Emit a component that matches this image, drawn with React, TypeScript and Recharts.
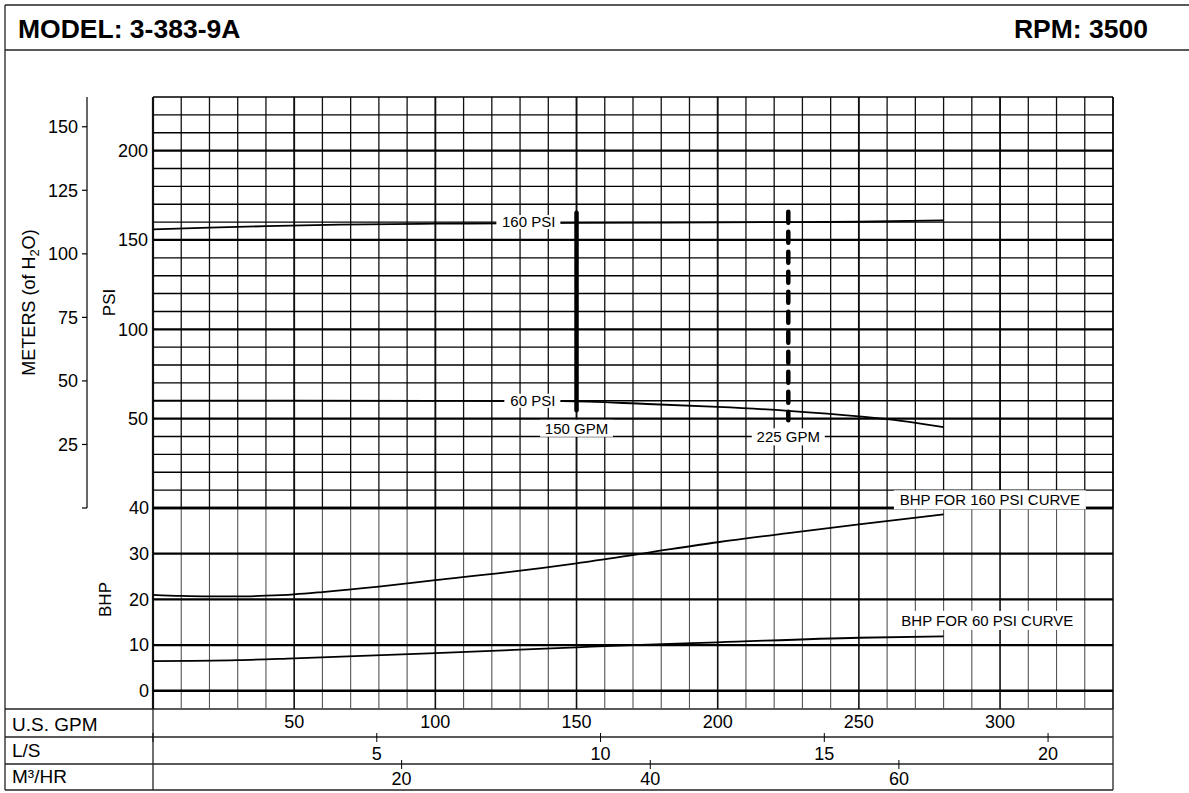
import React from "react";
import { LineChart, Line, XAxis, YAxis, ReferenceLine, ReferenceDot } from "recharts";

const FONT = "'Liberation Sans', Arial, Helvetica, sans-serif";

// grid values (US GPM across, PSI / BHP up)
const gpmGrid = [0, 10, 20, 30, 40, 50, 60, 70, 80, 90, 100, 110, 120, 130, 140, 150, 160, 170, 180, 190, 200, 210, 220, 230, 240, 250, 260, 270, 280, 290, 300, 310, 320, 330, 340];
const psiGrid = [0, 10, 20, 30, 40, 50, 60, 70, 80, 90, 100, 110, 120, 130, 140, 150, 160, 170, 180, 190, 200, 210, 220, 230];
const bhpGrid = [0, 10, 20, 30, 40];

// axis ticks
const psiTicks = [50, 100, 150, 200];
const meterTicks = [0, 25, 50, 75, 100, 125, 150];
const bhpTicks = [0, 10, 20, 30, 40];
const gpmTicks = [50, 100, 150, 200, 250, 300];
const lpsTicks = [0, 5, 10, 15, 20];
const m3hTicks = [20, 40, 60];

// pressure curves
const headGpm160 = [0, 20, 40, 66, 100, 125, 150, 200, 250, 280];
const headPsi160 = [155.9, 156.9, 157.7, 158.6, 159.1, 159.3, 159.55, 159.85, 160.2, 161.0];
const headGpm60 = [0, 50, 100, 145, 175, 200, 225, 250, 265, 280];
const headPsi60 = [60.1, 60.1, 60.0, 59.8, 58.2, 56.6, 54.4, 51.3, 48.8, 45.2];

// brake horsepower curves
const bhpGpm160 = [0, 10, 20, 30, 40, 50, 60, 80, 100, 125, 150, 175, 200, 225, 250, 280];
const bhpVal160 = [21.0, 20.75, 20.65, 20.65, 20.8, 21.1, 21.6, 22.8, 24.2, 25.9, 27.9, 30.2, 32.5, 34.5, 36.4, 38.6];
const bhpGpm60 = [0, 30, 50, 100, 150, 170, 200, 250, 280];
const bhpVal60 = [6.5, 6.7, 7.1, 8.25, 9.5, 10.0, 10.6, 11.6, 11.9];

// rated flow markers (gpm, psi top, psi bottom)
const markerGpm = [150, 225];
const markerTop = [165.2, 165.8];
const markerBottom = [54.7, 49.1];

// annotations
const noteText = ["160 PSI", "60 PSI", "150 GPM", "225 GPM"];
const noteGpm = [142.5, 142.5, 150, 225];
const notePsi = [160, 60, 44.6, 39.8];
const bhpNoteText = ["BHP FOR 160 PSI CURVE", "BHP FOR 60 PSI CURVE"];
const bhpNoteGpm = [296.4, 295.5];
const bhpNoteVal = [41.8, 15.4];

const PSI_TO_M = 0.70307;
const GPM_TO_LPS = 1 / 15.8503;
const GPM_TO_M3H = 0.227125;
const GPM_MAX = 340;

const pts = (xs: number[], ys: number[], k = 1) => xs.map((x, i) => ({ x: x * k, y: ys[i] }));

const noteBox: Record<string, { w: number; h: number; anchor: "end" | "middle" }> = {
  "160 PSI": { w: 54, h: 14, anchor: "end" },
  "60 PSI": { w: 46, h: 14, anchor: "end" },
  "150 GPM": { w: 63, h: 17, anchor: "middle" },
  "225 GPM": { w: 63, h: 17, anchor: "middle" },
  "BHP FOR 160 PSI CURVE": { w: 182, h: 19, anchor: "middle" },
  "BHP FOR 60 PSI CURVE": { w: 173, h: 19, anchor: "middle" },
};

function NoteShape(text: string) {
  return (p: any) => {
    const b = noteBox[text];
    const left = b.anchor === "end" ? p.cx - b.w : p.cx - b.w / 2;
    return (
      <g>
        <rect x={left - 5} y={p.cy - b.h / 2} width={b.w + 10} height={b.h} fill="#fff" />
        <text x={p.cx} y={p.cy} dy="0.36em" textAnchor={b.anchor} fontSize={15} fontFamily={FONT} fill="#000">
          {text}
        </text>
      </g>
    );
  };
}

function rotTitle(dx: number, dy: number, size: number, content: React.ReactNode) {
  return (props: any) => {
    const vb = props.viewBox;
    const cx = vb.x + dx;
    const cy = vb.y + vb.height / 2 + dy;
    return (
      <text x={cx} y={cy} transform={`rotate(-90 ${cx} ${cy})`} textAnchor="middle" dominantBaseline="central" fontSize={size} fontFamily={FONT} fill="#000">
        {content}
      </text>
    );
  };
}

const GpmTick = (p: any) => (
  <text x={p.x} y={p.y + 19} textAnchor="middle" fontSize={18} fontFamily={FONT} fill="#000">
    {p.payload.value}
  </text>
);

function crossTick(drop: number) {
  return (p: any) => (
    <g>
      <line x1={p.x} x2={p.x} y1={p.y - 4} y2={p.y + 5} stroke="#000" strokeWidth={1} />
      {p.payload.value !== 0 && (
        <text x={p.x} y={p.y + drop} textAnchor="middle" fontSize={18} fontFamily={FONT} fill="#000">
          {p.payload.value}
        </text>
      )}
    </g>
  );
}

const tickStyle = { fontSize: 18, fill: "#000", fontFamily: FONT };

function PressureChart() {
  return (
    <LineChart width={1189} height={440} margin={{ top: 17, right: 76, bottom: 12, left: 5 }}>
      <XAxis xAxisId="q" type="number" dataKey="x" domain={[0, GPM_MAX]} allowDataOverflow hide />
      <YAxis
        yAxisId="b_m"
        type="number"
        domain={[0, 230 * PSI_TO_M]}
        allowDataOverflow
        ticks={meterTicks}
        interval={0}
        width={82}
        axisLine={{ stroke: "#000", strokeWidth: 1.2 }}
        tickLine={{ stroke: "#000", strokeWidth: 1.2 }}
        tickSize={5}
        tickMargin={4}
        tick={tickStyle}
        tickFormatter={(v: number) => (v === 0 ? "" : String(v))}
        label={{
          content: rotTitle(
            23.5,
            0,
            18,
            <>
              METERS (of H<tspan dy={5} fontSize={13}>2</tspan>
              <tspan dy={-5}>O)</tspan>
            </>
          ),
        }}
      />
      <YAxis
        yAxisId="a_psi"
        type="number"
        domain={[0, 230]}
        allowDataOverflow
        ticks={psiTicks}
        interval={0}
        width={66}
        axisLine={false}
        tickLine={false}
        tickSize={0}
        tickMargin={5}
        tick={tickStyle}
        label={{ content: rotTitle(22, 0, 17, "PSI") }}
      />
      {gpmGrid.map((v) => (
        <ReferenceLine
          key={"vx" + v}
          xAxisId="q"
          yAxisId="a_psi"
          x={v}
          stroke="#111"
          strokeWidth={v === 0 ? 2.2 : v % 50 === 0 || v === GPM_MAX ? 1.9 : 1.3}
        />
      ))}
      {psiGrid.map((v) => (
        <ReferenceLine
          key={"hy" + v}
          xAxisId="q"
          yAxisId="a_psi"
          y={v}
          stroke="#000"
          strokeWidth={v % 50 === 0 ? 2.3 : v === 230 ? 1.7 : 1.4}
        />
      ))}
      <Line xAxisId="q" yAxisId="a_psi" data={pts(headGpm160, headPsi160)} dataKey="y" type="monotone" stroke="#000" strokeWidth={1.8} dot={false} isAnimationActive={false} />
      <Line xAxisId="q" yAxisId="a_psi" data={pts(headGpm60, headPsi60)} dataKey="y" type="monotone" stroke="#000" strokeWidth={1.8} dot={false} isAnimationActive={false} />
      {/* keeps the meters axis tied to data (same curve in metres) */}
      <Line xAxisId="q" yAxisId="b_m" data={pts(headGpm60, headPsi60.map((p) => p * PSI_TO_M))} dataKey="y" stroke="none" dot={false} isAnimationActive={false} />
      {markerGpm.map((g, i) => (
        <ReferenceLine
          key={"mk" + g}
          xAxisId="q"
          yAxisId="a_psi"
          segment={[
            { x: g, y: markerTop[i] },
            { x: g, y: markerBottom[i] },
          ]}
          stroke="#000"
          strokeWidth={4.5}
          strokeLinecap="round"
          strokeDasharray={i === 1 ? "11 9" : undefined}
        />
      ))}
      {noteText.map((t, i) => (
        <ReferenceDot key={t} xAxisId="q" yAxisId="a_psi" x={noteGpm[i]} y={notePsi[i]} r={1} ifOverflow="visible" shape={NoteShape(t)} />
      ))}
    </LineChart>
  );
}

function PowerChart() {
  return (
    <LineChart width={1189} height={313} margin={{ top: 28, right: 76, bottom: 3, left: 5 }}>
      <XAxis
        xAxisId="c_m3h"
        type="number"
        dataKey="x"
        domain={[0, GPM_MAX * GPM_TO_M3H]}
        allowDataOverflow
        ticks={m3hTicks}
        interval={0}
        height={26}
        axisLine={false}
        tickLine={false}
        tickSize={0}
        tickMargin={0}
        tick={crossTick(21)}
      />
      <XAxis
        xAxisId="b_lps"
        type="number"
        dataKey="x"
        domain={[0, GPM_MAX * GPM_TO_LPS]}
        allowDataOverflow
        ticks={lpsTicks}
        interval={0}
        height={27}
        axisLine={false}
        tickLine={false}
        tickSize={0}
        tickMargin={0}
        tick={crossTick(23)}
      />
      <XAxis
        xAxisId="a_q"
        type="number"
        dataKey="x"
        domain={[0, GPM_MAX]}
        allowDataOverflow
        ticks={gpmTicks}
        interval={0}
        height={28}
        axisLine={false}
        tickLine={false}
        tickSize={0}
        tickMargin={0}
        tick={GpmTick}
      />
      <YAxis
        yAxisId="bhp"
        type="number"
        domain={[-4, 40]}
        allowDataOverflow
        ticks={bhpTicks}
        interval={0}
        width={148}
        axisLine={false}
        tickLine={false}
        tickSize={0}
        tickMargin={4}
        tick={tickStyle}
        label={{ content: rotTitle(100.5, -9, 17, "BHP") }}
      />
      {gpmGrid.map((v) => (
        <ReferenceLine
          key={"vx" + v}
          xAxisId="a_q"
          yAxisId="bhp"
          x={v}
          stroke={v % 50 === 0 || v === GPM_MAX ? "#111" : "#555"}
          strokeWidth={v === 0 ? 2.2 : v % 50 === 0 || v === GPM_MAX ? 1.6 : 1.1}
        />
      ))}
      {bhpGrid.map((v) => (
        <ReferenceLine key={"hy" + v} xAxisId="a_q" yAxisId="bhp" y={v} stroke="#000" strokeWidth={2.3} />
      ))}
      <Line xAxisId="a_q" yAxisId="bhp" data={pts(bhpGpm160, bhpVal160)} dataKey="y" type="monotone" stroke="#000" strokeWidth={1.8} dot={false} isAnimationActive={false} />
      <Line xAxisId="a_q" yAxisId="bhp" data={pts(bhpGpm60, bhpVal60)} dataKey="y" type="monotone" stroke="#000" strokeWidth={1.8} dot={false} isAnimationActive={false} />
      {/* same curve in L/S and M3/HR so the unit scales get a domain */}
      <Line xAxisId="b_lps" yAxisId="bhp" data={pts(bhpGpm60, bhpVal60, GPM_TO_LPS)} dataKey="y" stroke="none" dot={false} isAnimationActive={false} />
      <Line xAxisId="c_m3h" yAxisId="bhp" data={pts(bhpGpm60, bhpVal60, GPM_TO_M3H)} dataKey="y" stroke="none" dot={false} isAnimationActive={false} />
      {bhpNoteText.map((t, i) => (
        <ReferenceDot key={t} xAxisId="a_q" yAxisId="bhp" x={bhpNoteGpm[i]} y={bhpNoteVal[i]} r={1} ifOverflow="visible" shape={NoteShape(t)} />
      ))}
    </LineChart>
  );
}

function Frame() {
  const line = { stroke: "#222", strokeWidth: 1.3 };
  const label = { fontSize: 19, fontFamily: FONT, fill: "#000" };
  return (
    <svg width={1189} height={793} style={{ position: "absolute", left: 0, top: 0 }}>
      <line x1={5} y1={5} x2={1189} y2={5} {...line} />
      <line x1={5} y1={50} x2={1189} y2={50} {...line} />
      <line x1={5} y1={5} x2={5} y2={790} {...line} />
      <line x1={5} y1={709} x2={1113} y2={709} {...line} />
      <line x1={5} y1={737} x2={1113} y2={737} {...line} />
      <line x1={5} y1={764} x2={1113} y2={764} {...line} />
      <line x1={5} y1={790} x2={1113} y2={790} {...line} />
      <line x1={153} y1={709} x2={153} y2={790} {...line} />
      <line x1={1113} y1={709} x2={1113} y2={790} {...line} />
      <text x={18} y={38} fontSize={26.5} fontWeight="bold" fontFamily={FONT} fill="#000">
        MODEL: 3-383-9A
      </text>
      <text x={1148} y={38} textAnchor="end" fontSize={26.5} fontWeight="bold" fontFamily={FONT} fill="#000">
        RPM: 3500
      </text>
      <text x={12} y={731} {...label}>U.S. GPM</text>
      <text x={12} y={757} {...label}>L/S</text>
      <text x={12} y={783} {...label}>M³/HR</text>
    </svg>
  );
}

export default function App() {
  return (
    <div style={{ position: "absolute", left: 0, top: 0, width: 1189, height: 793, background: "#fff", fontFamily: FONT }}>
      <Frame />
      <div style={{ position: "absolute", left: 0, top: 80 }}>
        <PressureChart />
      </div>
      <div style={{ position: "absolute", left: 0, top: 480 }}>
        <PowerChart />
      </div>
    </div>
  );
}
